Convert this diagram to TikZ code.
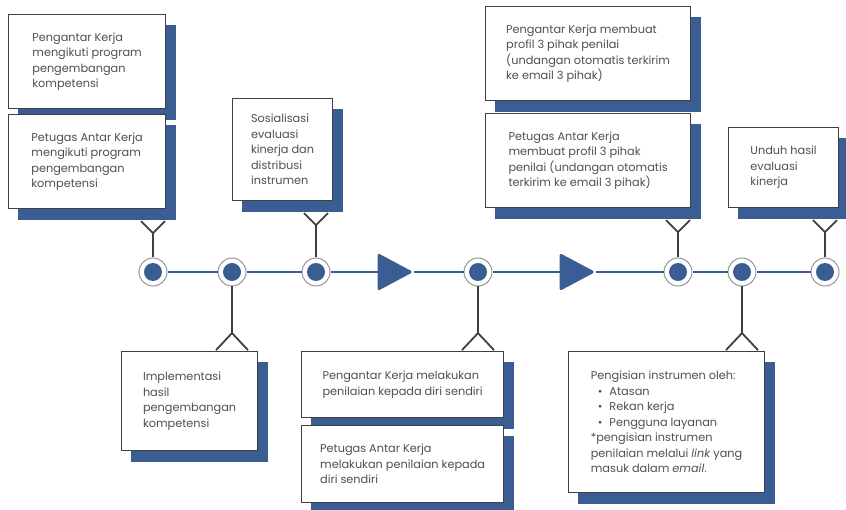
\documentclass[tikz,border=0pt]{standalone}
\usepackage{fontspec}
\setmainfont{Poppins}
\usepackage{xcolor}
\usetikzlibrary{positioning}
\usetikzlibrary{shapes.geometric}
\usetikzlibrary{shadows}
\usetikzlibrary{arrows.meta}
\usetikzlibrary{calc}
\definecolor{stepblue}{RGB}{58,94,148}
\definecolor{inkgray}{RGB}{62,64,70}
\definecolor{ringgray}{RGB}{150,150,150}
\definecolor{textgray}{RGB}{80,80,80}
\tikzset{
	card/.style={
		rectangle,
		draw=inkgray,
		line width=1.2pt,
		fill=white,
		align=left,
		anchor=north west,
		inner sep=0pt,
		font=\fontsize{11.3}{15.5}\selectfont,
		text=textgray,
		copy shadow={shadow xshift=10pt, shadow yshift=-11pt, fill=stepblue, draw=stepblue}
	},
	milestone/.style={
		circle,
		draw=ringgray,
		line width=1pt,
		fill=white,
		minimum size=28pt,
		inner sep=0pt,
		path picture={\fill[stepblue] (path picture bounding box.center) circle (9pt);}
	},
	flowmark/.style={
		isosceles triangle,
		isosceles triangle stretches,
		minimum width=33pt,
		minimum height=31pt,
		inner sep=0pt,
		fill=stepblue,
		draw=stepblue,
		line width=3pt,
		line join=round
	},
	track/.style={draw=stepblue, line width=2.5pt},
	uplink/.style={draw=inkgray, line width=1.8pt, -{Straight Barb[reversed, length=12pt, width=24pt]}},
	downlink/.style={draw=inkgray, line width=1.8pt, -{Straight Barb[reversed, length=17pt, width=32pt]}}
}

\begin{document}
\begin{tikzpicture}[x=1pt, y=-1pt]
		\useasboundingbox (0,0) rectangle (846,510);
		% timeline
		\draw node[milestone] (M1) at (153,272) {};
		\draw node[milestone] (M2) at (232,272) {};
		\draw node[milestone] (M3) at (316,272) {};
		\draw node[flowmark] (T1) at (389,272) {};
		\draw node[milestone] (M4) at (478,272) {};
		\draw node[flowmark] (T2) at (571,272) {};
		\draw node[milestone] (M5) at (678,272) {};
		\draw node[milestone] (M6) at (742,272) {};
		\draw node[milestone] (M7) at (825,272) {};
		\draw[track] (M1) -- (M2) -- (M3) -- (T1) -- (M4) -- (T2) -- (M5) -- (M6) -- (M7);
		
		% boxes above
		\draw node[card, minimum width=157pt, minimum height=94pt] (Dev1) at (8,14) {Pengantar Kerja\\ mengikuti program\\ pengembangan\\ kompetensi};
		\draw node[card, minimum width=157pt, minimum height=94pt] (Dev2) at (8,114) {Petugas Antar Kerja\\ mengikuti program\\ pengembangan\\ kompetensi};
		\draw node[card, minimum width=100pt, minimum height=102pt] (Sos) at (232,98) {Sosialisasi\\ evaluasi\\ kinerja dan\\ distribusi\\ instrumen};
		\draw node[card, minimum width=205pt, minimum height=94pt] (Prof1) at (485,6) {Pengantar Kerja membuat\\ profil 3 pihak penilai\\ (undangan otomatis terkirim\\ ke email 3 pihak)};
		\draw node[card, minimum width=205pt, minimum height=94pt] (Prof2) at (485,113) {Petugas Antar Kerja\\ membuat profil 3 pihak\\ penilai (undangan otomatis\\ terkirim ke email 3 pihak)};
		\draw node[card, minimum width=110pt, minimum height=80pt] (Unduh) at (728,127) {Unduh hasil\\ evaluasi\\ kinerja};
		
		% boxes below
		\draw node[card, minimum width=136pt, minimum height=99pt] (Impl) at (121,351) {Implementasi\\ hasil\\ pengembangan\\ kompetensi};
		\draw node[card, minimum width=202pt, minimum height=66pt] (Self1) at (301,351) {Pengantar Kerja melakukan\\ penilaian kepada diri sendiri};
		\draw node[card, minimum width=202pt, minimum height=77pt] (Self2) at (301,425) {Petugas Antar Kerja\\ melakukan penilaian kepada\\ diri sendiri};
		\draw node[card, minimum width=196pt, minimum height=141pt] (Isi) at (568,351) {Pengisian instrumen oleh:\\
			\hspace*{7pt}\textbullet\hspace{7pt}Atasan\\
			\hspace*{7pt}\textbullet\hspace{7pt}Rekan kerja\\
			\hspace*{7pt}\textbullet\hspace{7pt}Pengguna layanan\\
			*pengisian instrumen\\ penilaian melalui \textit{link} yang\\ masuk dalam \textit{email}.};
		
		% connectors
		\draw[uplink] (M1) -- ($(M1 |- Dev2.south)+(0,11)$);
		\draw[uplink] (M3) -- ($(M3 |- Sos.south)+(0,11)$);
		\draw[uplink] (M5) -- ($(M5 |- Prof2.south)+(0,11)$);
		\draw[uplink] (M7) -- ($(M7 |- Unduh.south)+(0,11)$);
		\draw[downlink] (M2) -- (M2 |- Impl.north);
		\draw[downlink] (M4) -- (M4 |- Self1.north);
		\draw[downlink] (M6) -- (M6 |- Isi.north);
	\end{tikzpicture}
\end{document}
